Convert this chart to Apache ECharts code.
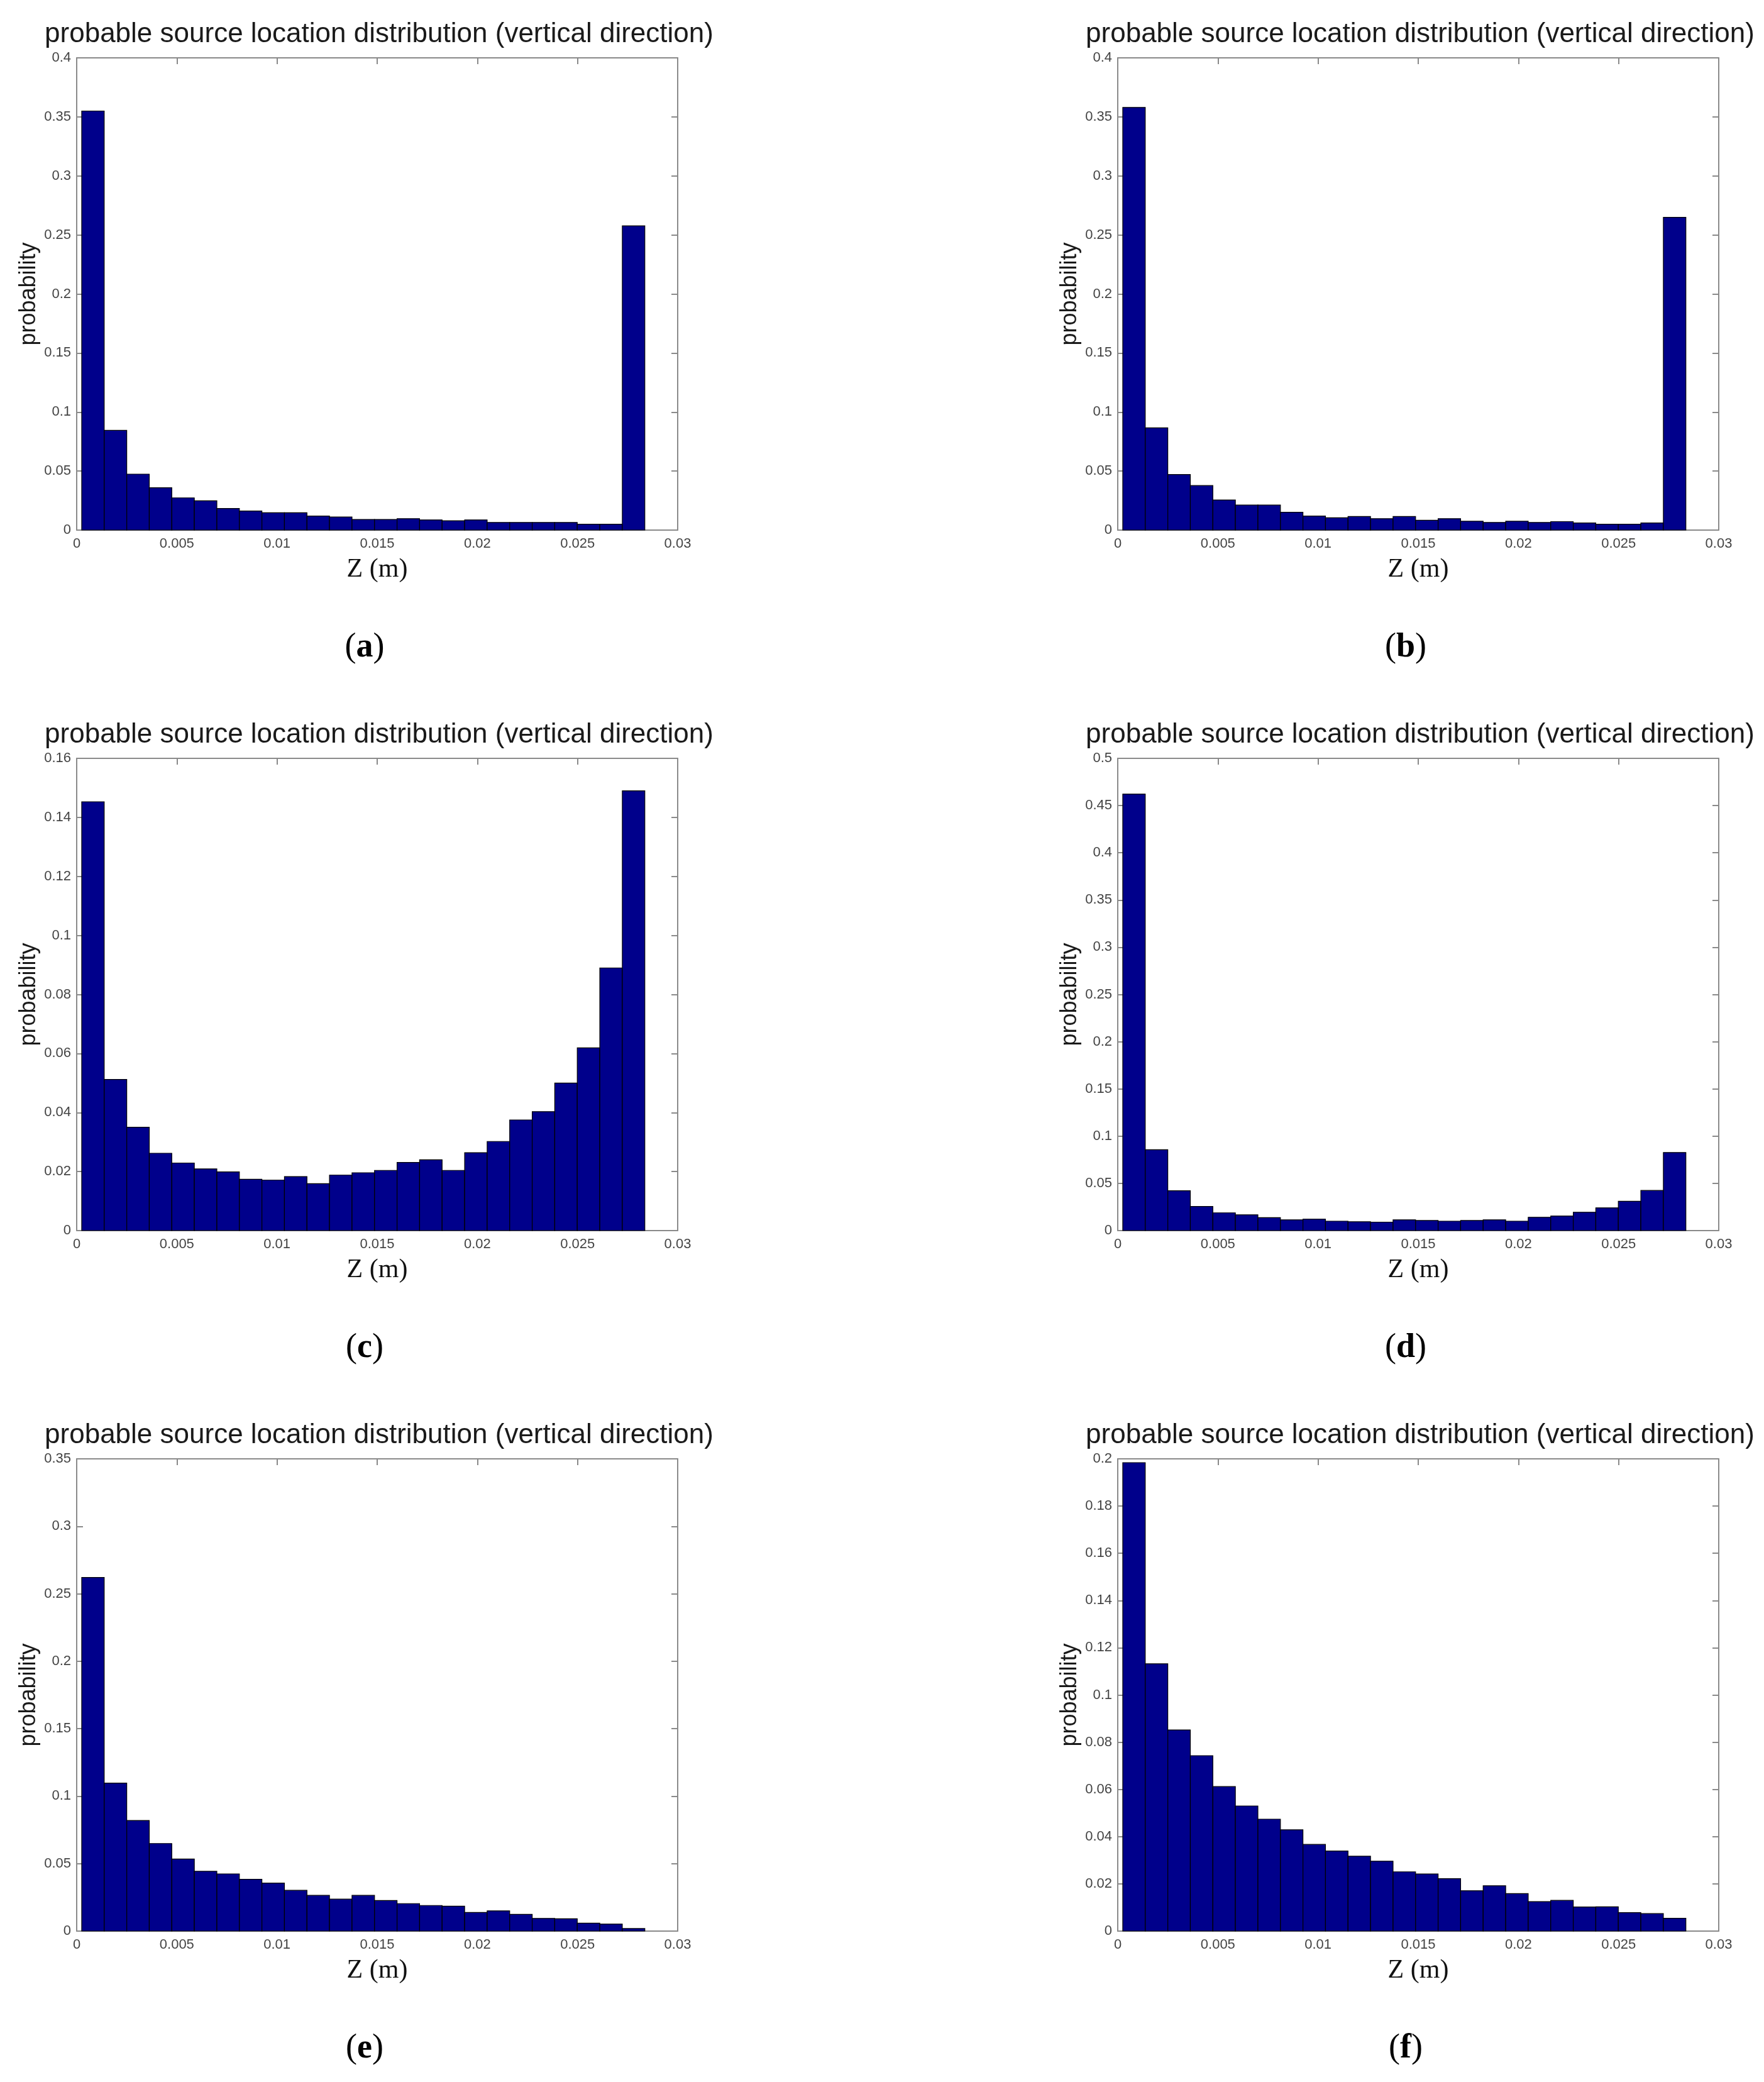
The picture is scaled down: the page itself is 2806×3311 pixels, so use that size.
<!DOCTYPE html>
<html lang="en">
<head>
    <meta charset="utf-8">
    <title>probable source location distribution</title>
    <script src="https://cdn.jsdelivr.net/npm/echarts@6/dist/echarts.min.js"></script>
    <style>
        html, body { margin: 0; padding: 0; background: #fff; }
        #main { width: 2806px; height: 3311px; }
    </style>
</head>
<body>
<div id="main"></div>
<script>
// histogram: 25 bins over the measured Z range
var zLo = 0.00025;
var zHi = 0.02836;
var nBins = 25;

var panelTags = ['a', 'b', 'c', 'd', 'e', 'f'];
var xTickLabels = ['0', '0.005', '0.01', '0.015', '0.02', '0.025', '0.03'];
var yMaxes = [0.4, 0.4, 0.16, 0.5, 0.35, 0.2];
var yIntervals = [0.05, 0.05, 0.02, 0.05, 0.05, 0.02];

var probA = [0.355, 0.0845, 0.0474, 0.0359, 0.0273, 0.0248, 0.0183, 0.0162, 0.0147, 0.0147, 0.0119, 0.0111, 0.0090,
             0.0090, 0.0097, 0.0086, 0.0079, 0.0086, 0.0065, 0.0065, 0.0065, 0.0065, 0.0050, 0.0050, 0.2577];
var probB = [0.358, 0.0866, 0.0471, 0.0377, 0.0255, 0.0212, 0.0212, 0.0151, 0.0119, 0.0104, 0.0115, 0.0097, 0.0115,
             0.0083, 0.0097, 0.0075, 0.0065, 0.0075, 0.0065, 0.0072, 0.0061, 0.0050, 0.0050, 0.0061, 0.2649];
var probC = [0.1453, 0.0512, 0.0350, 0.0262, 0.0229, 0.0209, 0.0199, 0.0174, 0.0171, 0.0183, 0.0159, 0.0188, 0.0196,
             0.0204, 0.0231, 0.0240, 0.0204, 0.0264, 0.0302, 0.0375, 0.0403, 0.0500, 0.0619, 0.0890, 0.1490];
var probD = [0.4622, 0.0857, 0.0422, 0.0255, 0.0188, 0.0167, 0.0137, 0.0114, 0.0121, 0.0100, 0.0094, 0.0090, 0.0114,
             0.0107, 0.0100, 0.0107, 0.0114, 0.0100, 0.0141, 0.0154, 0.0194, 0.0241, 0.0311, 0.0425, 0.0827];
var probE = [0.2621, 0.1097, 0.0820, 0.0649, 0.0534, 0.0443, 0.0424, 0.0384, 0.0356, 0.0302, 0.0265, 0.0237, 0.0265,
             0.0227, 0.0204, 0.0190, 0.0185, 0.0138, 0.0150, 0.0124, 0.0094, 0.0091, 0.0059, 0.0052, 0.0019];
var probF = [0.1984, 0.1132, 0.0852, 0.0743, 0.0612, 0.0530, 0.0474, 0.0429, 0.0367, 0.0339, 0.0317, 0.0296, 0.0251,
             0.0242, 0.0222, 0.0171, 0.0192, 0.0159, 0.0125, 0.0130, 0.0102, 0.0103, 0.0078, 0.0074, 0.0054];
var panelData = [probA, probB, probC, probD, probE, probF];

var titleText = 'probable source location distribution (vertical direction)';

// layout of the 3x2 panel grid
var colLeft = [122, 1778];
var rowTop = [92, 1206, 2320];
var plotW = 956;
var plotH = 751;

var axisGray = '#8a8a8a';
var barColor = '#00008b';
var sansFont = '"Liberation Sans", Arial, Helvetica, sans-serif';
var serifFont = '"Liberation Serif", "Times New Roman", serif';

function binRows(values) {
    var w = (zHi - zLo) / nBins;
    return values.map(function (v, i) {
        return [zLo + i * w, zLo + (i + 1) * w, v];
    });
}

function renderBin(params, api) {
    var p0 = api.coord([api.value(0), api.value(2)]);
    var p1 = api.coord([api.value(1), 0]);
    return {
        type: 'rect',
        shape: { x: p0[0], y: p0[1], width: p1[0] - p0[0], height: p1[1] - p0[1] },
        style: { fill: barColor, stroke: '#000', lineWidth: 1.2 }
    };
}

var grids = [], xAxes = [], yAxes = [], series = [], graphics = [];

panelData.forEach(function (vals, i) {
    var left = colLeft[i % 2];
    var top = rowTop[Math.floor(i / 2)];
    grids.push({ left: left, top: top, width: plotW, height: plotH, containLabel: false });

    var tick = { show: true, inside: true, length: 10, lineStyle: { color: axisGray, width: 2 } };
    var line = { show: true, onZero: false, lineStyle: { color: axisGray, width: 2 } };

    // bottom + top x axes
    xAxes.push({
        type: 'value', gridIndex: i, position: 'bottom', min: 0, max: 0.03, interval: 0.005,
        axisLine: line, axisTick: tick, splitLine: { show: false },
        axisLabel: {
            margin: 11, fontSize: 22, color: '#444', fontFamily: sansFont,
            formatter: function (v) { return xTickLabels[Math.round(v / 0.005)]; }
        },
        name: 'Z (m)', nameLocation: 'middle', nameGap: 42,
        nameTextStyle: { fontSize: 42, fontFamily: serifFont, color: '#111' }
    });
    xAxes.push({
        type: 'value', gridIndex: i, position: 'top', min: 0, max: 0.03, interval: 0.005,
        axisLine: line, axisTick: tick, axisLabel: { show: false }, splitLine: { show: false }
    });
    // left + right y axes
    yAxes.push({
        type: 'value', gridIndex: i, position: 'left', min: 0, max: yMaxes[i], interval: yIntervals[i],
        axisLine: line, axisTick: tick, splitLine: { show: false },
        axisLabel: { margin: 9, fontSize: 22, color: '#444', fontFamily: sansFont },
        name: 'probability', nameLocation: 'middle', nameRotate: 90, nameGap: 58,
        nameTextStyle: { fontSize: 36, fontFamily: sansFont, color: '#1a1a1a' }
    });
    yAxes.push({
        type: 'value', gridIndex: i, position: 'right', min: 0, max: yMaxes[i], interval: yIntervals[i],
        axisLine: line, axisTick: tick, axisLabel: { show: false }, splitLine: { show: false }
    });

    series.push({
        type: 'custom', xAxisIndex: 2 * i, yAxisIndex: 2 * i,
        renderItem: renderBin, encode: { x: [0, 1], y: 2 },
        data: binRows(vals), silent: true
    });

    // panel title above the box
    graphics.push({
        type: 'text', x: left + plotW / 2 + 3, y: top - 37,
        style: {
            text: titleText, fontSize: 44, fontFamily: sansFont, fill: '#1a1a1a',
            align: 'center', verticalAlign: 'middle', textAlign: 'center', textVerticalAlign: 'middle'
        }
    });
    // (a) .. (f) tag under the panel
    graphics.push({
        type: 'text', x: left + plotW / 2 - 20, y: top + 938,
        style: {
            text: '{p|(}{b|' + panelTags[i] + '}{p|)}',
            align: 'center', verticalAlign: 'middle', textAlign: 'center', textVerticalAlign: 'middle',
            rich: {
                p: { fontSize: 54, fontFamily: serifFont, color: '#000' },
                b: { fontSize: 54, fontFamily: serifFont, fontWeight: 'bold', color: '#000' }
            }
        }
    });
});

var myChart = echarts.init(document.getElementById('main'));
myChart.setOption({
    backgroundColor: '#fff',
    animation: false,
    grid: grids,
    xAxis: xAxes,
    yAxis: yAxes,
    series: series,
    graphic: graphics
});
</script>
</body>
</html>
